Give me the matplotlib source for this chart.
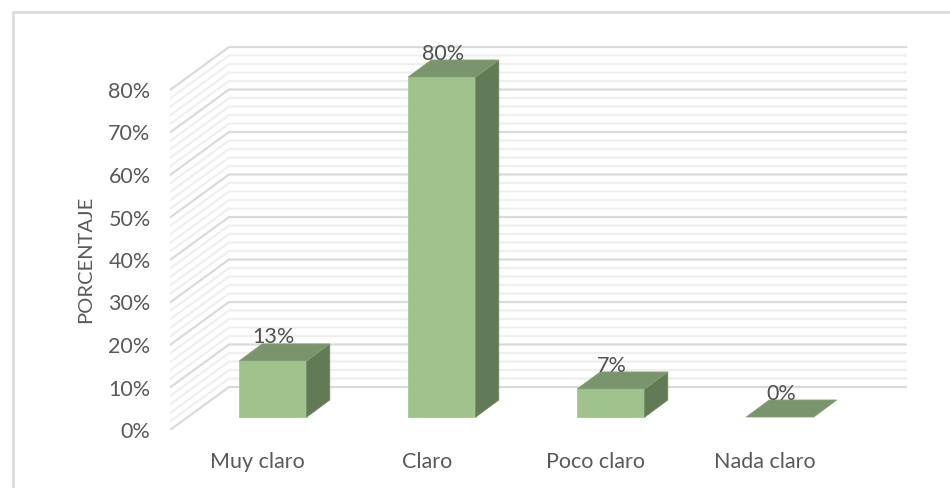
import matplotlib
matplotlib.use("Agg")
import matplotlib.pyplot as plt
from matplotlib.patches import Polygon, Rectangle
from matplotlib.lines import Line2D

categories = ["Muy claro", "Claro", "Poco claro", "Nada claro"]
values = [13.2, 80, 6.6, 0]
labels = ["13%", "80%", "7%", "0%"]
y_ticks = [0, 10, 20, 30, 40, 50, 60, 70, 80]

plt.rcParams["font.family"] = ["Lato", "DejaVu Sans"]
text_color = "#595959"

W, H = 950, 488
fig = plt.figure(figsize=(W / 100, H / 100), dpi=100)
fig.patch.set_facecolor("white")

# axes box in pixels, the floor of the 3d wall starts at 170,430
left, right, top, bottom = 170, 907, 46, 430
ax = fig.add_axes([left / W, 1 - bottom / H, (right - left) / W, (bottom - top) / H])

px_x = 169.0   # pixels per category
px_y = 4.25    # pixels per percent
x0 = 273       # pixel of first bar centre
y0 = 417       # pixel of bar base

ax.set_xlim((left - x0) / px_x, (right - x0) / px_x)
ax.set_ylim((y0 - bottom) / px_y, (y0 - top) / px_y)

# 3d offsets in data units
wall_y = (y0 - bottom) / px_y
wall_dx = 59 / px_x
wall_dy = 43 / px_y
bar_w = 67.5 / px_x
bar_dx = 23 / px_x
bar_dy = 17 / px_y
xmin = ax.get_xlim()[0]
xmax = ax.get_xlim()[1]

# minor grid first, then major on top
for v in range(0, 81, 2):
    if v % 10 == 0:
        continue
    y = wall_y + v
    ax.plot([xmin, xmin + wall_dx, xmax], [y, y + wall_dy, y + wall_dy],
            color="#efefef", lw=1.6, zorder=1, solid_joinstyle="miter")
for v in y_ticks:
    y = wall_y + v
    ax.plot([xmin, xmin + wall_dx, xmax], [y, y + wall_dy, y + wall_dy],
            color="#dadada", lw=1.6, zorder=2, solid_joinstyle="miter")

# bars
for i, v in enumerate(values):
    x1 = i - bar_w / 2
    x2 = i + bar_w / 2
    if v > 0:
        ax.add_patch(Rectangle((x1, 0), bar_w, v, fc="#a0c28c", ec="#a8c896", lw=0.6, zorder=3))
        ax.add_patch(Polygon([(x2, 0), (x2 + bar_dx, bar_dy), (x2 + bar_dx, v + bar_dy), (x2, v)],
                             fc="#637a56", ec="#6d8560", lw=0.6, zorder=3))
    ax.add_patch(Polygon([(x1, v), (x2, v), (x2 + bar_dx, v + bar_dy), (x1 + bar_dx, v + bar_dy)],
                         fc="#7a956d", ec="#84a076", lw=0.6, zorder=3))
    ax.text(i + 0.005, v + bar_dy + 0.1, labels[i], ha="center", va="baseline",
            fontsize=15.5, color="#505050", zorder=4)

# real axes ticks, moved to the front edge of the wall
ax.set_yticks([wall_y + v for v in y_ticks])
ax.set_yticklabels([f"{v}%" for v in y_ticks], fontsize=15.5, color=text_color)
ax.set_xticks([i - 0.09 for i in range(len(categories))])
ax.set_xticklabels(categories, fontsize=15.5, color=text_color)
ax.tick_params(axis="both", length=0)
ax.tick_params(axis="y", pad=14)
ax.tick_params(axis="x", pad=16)
ax.set_ylabel("PORCENTAJE", fontsize=14.5, color=text_color)
ax.yaxis.set_label_coords((94 - left) / (right - left), (bottom - 259) / (bottom - top))
for s in ax.spines.values():
    s.set_visible(False)
ax.patch.set_alpha(0)

# the chart frame only shows on the top and left edges of the crop
fig.add_artist(Line2D([12.5 / W, 12.5 / W, 1], [0, 1 - 11.5 / H, 1 - 11.5 / H],
                      transform=fig.transFigure, color="#dcdcdc", lw=2, solid_joinstyle="miter"))

fig.savefig("out.png", dpi=100)
